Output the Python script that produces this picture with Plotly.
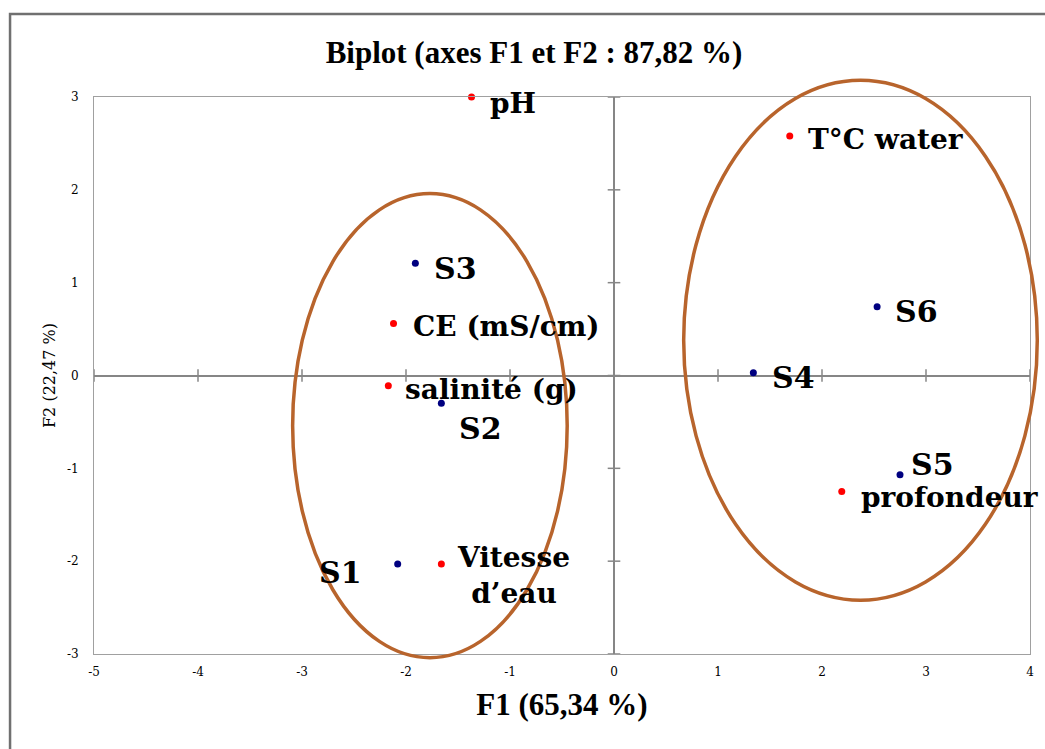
import plotly.graph_objects as go

# Variables (active columns) on the F1/F2 plane
var_names = ["pH", "T°C water", "CE (mS/cm)", "salinité (g)", "profondeur", "Vitesse<br>d’eau"]
var_f1 = [-1.37, 1.69, -2.12, -2.17, 2.19, -1.66]
var_f2 = [3.00, 2.58, 0.56, -0.11, -1.25, -2.03]

# Stations (observations) on the F1/F2 plane
obs_names = ["S1", "S2", "S3", "S4", "S5", "S6"]
obs_f1 = [-2.08, -1.66, -1.91, 1.34, 2.75, 2.53]
obs_f2 = [-2.03, -0.30, 1.21, 0.03, -1.07, 0.74]

# Groups highlighted with ellipses: (x0, x1, y0, y1) in F1/F2 units
groups = [(-3.09, -0.45, -3.04, 1.96), (0.67, 4.07, -2.42, 3.18)]

x_ticks = [-5, -4, -3, -2, -1, 0, 1, 2, 3, 4]
x_tick_labels = ["-5", "-4", "-3", "-2", "-1", "0", "1", "2", "3", "4"]
y_ticks = [-3, -2, -1, 0, 1, 2, 3]
y_tick_labels = ["-3", "-2", "-1", "0", "1", "2", "3"]
x_range = [-5, 4]
y_range = [-3, 3]

AXIS_GREY = "#868686"
LABEL_FONT = "DejaVu Serif"

fig = go.Figure()

# tick marks crossing the zero axes
fig.add_trace(go.Scatter(
    x=x_ticks, y=[0] * len(x_ticks), mode="markers", cliponaxis=False,
    marker=dict(symbol="line-ns", size=9, line=dict(color=AXIS_GREY, width=1.5)),
    hoverinfo="skip", showlegend=False))
fig.add_trace(go.Scatter(
    x=[0] * len(y_ticks), y=y_ticks, mode="markers", cliponaxis=False,
    marker=dict(symbol="line-ew", size=9, line=dict(color=AXIS_GREY, width=1.5)),
    hoverinfo="skip", showlegend=False))

fig.add_trace(go.Scatter(
    x=var_f1, y=var_f2, mode="markers", cliponaxis=False,
    marker=dict(color="#FF0000", size=7), name="Variables", showlegend=False))
fig.add_trace(go.Scatter(
    x=obs_f1, y=obs_f2, mode="markers", cliponaxis=False,
    marker=dict(color="#000080", size=7), name="Observations", showlegend=False))

# label placement: (xanchor, xshift, yshift, size)
var_place = {
    "pH": ("left", 16, -6, 28),
    "T°C water": ("left", 16, -4, 28),
    "CE (mS/cm)": ("left", 17, -3, 28),
    "salinité (g)": ("left", 15, -4, 28),
    "profondeur": ("left", 17, -6, 28),
    "Vitesse<br>d’eau": ("left", 14, -12, 28),
}
obs_place = {
    "S1": ("right", -34, -9, 30),
    "S2": ("left", 16, -25, 30),
    "S3": ("left", 17, -5, 30),
    "S4": ("left", 17, -5, 30),
    "S5": ("left", 9, 10, 30),
    "S6": ("left", 16, -5, 30),
}

for names, xs, ys, place in ((var_names, var_f1, var_f2, var_place),
                             (obs_names, obs_f1, obs_f2, obs_place)):
    for n, xv, yv in zip(names, xs, ys):
        anchor, dx, dy, size = place[n]
        fig.add_annotation(
            x=xv, y=yv, xref="x", yref="y", text="<b>%s</b>" % n, showarrow=False,
            xanchor=anchor, yanchor="middle", xshift=dx, yshift=dy, align="center",
            font=dict(family=LABEL_FONT, size=size, color="#000000"))


def dom(v, rng):
    return (v - rng[0]) / (rng[1] - rng[0])


for gx0, gx1, gy0, gy1 in groups:
    fig.add_shape(
        type="circle", xref="x domain", yref="y domain",
        x0=dom(gx0, x_range), x1=dom(gx1, x_range),
        y0=dom(gy0, y_range), y1=dom(gy1, y_range),
        line=dict(color="#B8642C", width=3.5), layer="above")

# outer chart frame
fig.add_shape(type="rect", xref="paper", yref="paper",
              x0=-0.0897, x1=1.05, y0=-0.3, y1=1.149,
              line=dict(color="#707070", width=2.5), layer="below")

axis_common = dict(
    showgrid=False, zeroline=True, zerolinecolor=AXIS_GREY, zerolinewidth=2,
    showline=True, linecolor="#A0A0A0", linewidth=1, mirror=True,
    ticks="", tickfont=dict(family="DejaVu Serif", size=12, color="#000000"),
)

fig.update_layout(
    width=1045, height=749,
    margin=dict(l=94, r=15, t=97, b=95),
    paper_bgcolor="white", plot_bgcolor="white",
    title=dict(text="<b>Biplot (axes F1 et F2 : 87,82 %)</b>",
               x=0.511, xanchor="center", y=0.9306, yanchor="middle",
               font=dict(family="Liberation Serif", size=31, color="#000000")),
    xaxis=dict(range=x_range, tickvals=x_ticks, ticktext=x_tick_labels,
               ticklabelstandoff=7,
               title=dict(text="<b>F1 (65,34 %)</b>", standoff=14,
                          font=dict(family="Liberation Serif", size=31, color="#000000")),
               **axis_common),
    yaxis=dict(range=y_range, tickvals=y_ticks, ticktext=y_tick_labels,
               ticklabelstandoff=12,
               title=dict(text="F2 (22,47 %)", standoff=7,
                          font=dict(family="DejaVu Serif", size=16, color="#000000")),
               **axis_common),
    showlegend=False,
)

fig.write_html("out.html")
